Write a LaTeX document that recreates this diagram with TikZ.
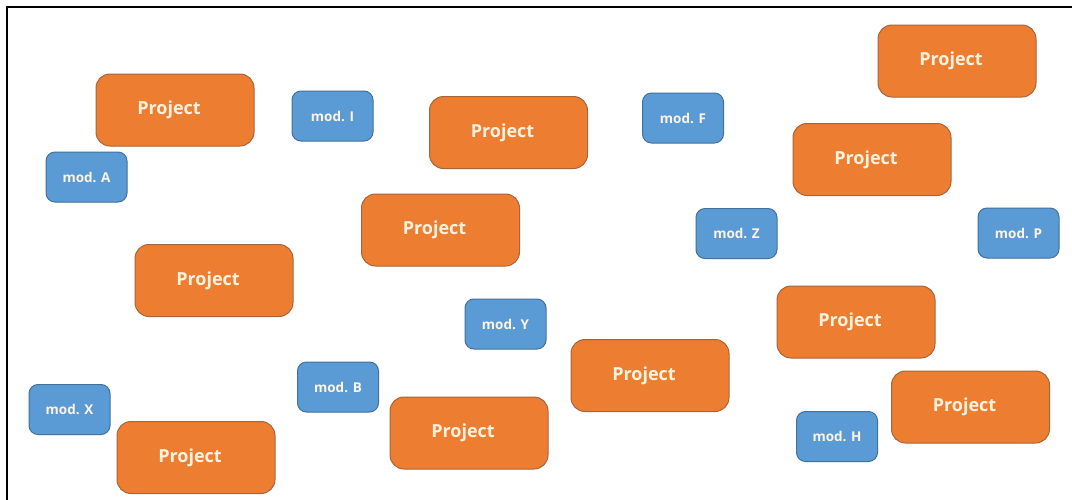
\documentclass[tikz,border=0pt]{standalone}
\usepackage{fontspec}
\setmainfont{Open Sans}
\definecolor{orfill}{HTML}{ED7D31}
\definecolor{ordraw}{HTML}{A9643A}
\definecolor{blfill}{HTML}{5B9BD5}
\definecolor{bldraw}{HTML}{41719C}
\definecolor{txt}{HTML}{FFF3DF}
\begin{document}
\begin{tikzpicture}[x=1pt,y=-1pt,
  proj/.style={draw=ordraw, fill=orfill, line width=1pt, rounded corners=14pt,
    minimum width=158pt, minimum height=72pt, inner sep=0pt,
    text=txt, font=\bfseries\fontsize{18}{20}\selectfont},
  modbox/.style={draw=bldraw, fill=blfill, line width=1pt, rounded corners=9pt,
    minimum width=81pt, minimum height=50pt, inner sep=0pt,
    text=txt, font=\bfseries\fontsize{13.5}{15}\selectfont}]
\useasboundingbox (0,0) rectangle (1072,499);
\fill[white] (0,0) rectangle (1072,499);
\draw[line width=2.2pt, line cap=rect] (7,500) -- (7,7) -- (1073,7);
% projects
\node[proj] (p1) at (175,110) {Project\hspace*{12pt}};
\node[proj] (p2) at (508.5,132.5) {Project\hspace*{12pt}};
\node[proj] (p3) at (440.5,230) {Project\hspace*{12pt}};
\node[proj] (p4) at (957,61) {Project\hspace*{12pt}};
\node[proj] (p5) at (872,159.5) {Project\hspace*{12pt}};
\node[proj] (p6) at (214,280.5) {Project\hspace*{12pt}};
\node[proj] (p7) at (856,322) {Project\hspace*{12pt}};
\node[proj] (p8) at (650,375.5) {Project\hspace*{12pt}};
\node[proj] (p9) at (970.5,407) {Project\hspace*{12pt}};
\node[proj] (p10) at (469,433) {Project\hspace*{12pt}};
\node[proj] (p11) at (196,457.5) {Project\hspace*{12pt}};
% modules
\node[modbox] (mA) at (86.5,177) {mod. A};
\node[modbox] (mI) at (332.5,116) {mod. I};
\node[modbox] (mF) at (683,118) {mod. F};
\node[modbox] (mZ) at (736.5,233.5) {mod. Z};
\node[modbox] (mP) at (1018.5,233) {mod. P};
\node[modbox] (mY) at (505.5,324) {mod. Y};
\node[modbox] (mB) at (338,387) {mod. B};
\node[modbox] (mX) at (69.5,409.5) {mod. X};
\node[modbox] (mH) at (837,436.5) {mod. H};
\end{tikzpicture}
\end{document}
